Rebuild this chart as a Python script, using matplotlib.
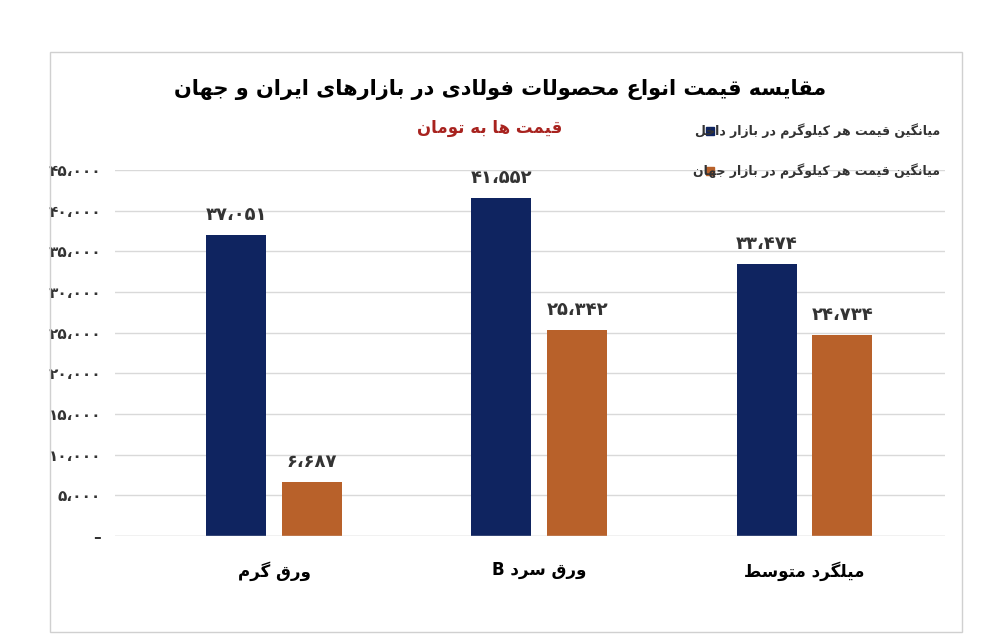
import matplotlib
matplotlib.use("Agg")
import matplotlib.pyplot as plt
from matplotlib.patches import Rectangle

categories = ["ورق گرم", "ورق سرد B", "میلگرد متوسط"]
domestic = [37051, 41552, 33474]
world = [6687, 25342, 24734]
yticks = [0, 5000, 10000, 15000, 20000, 25000, 30000, 35000, 40000, 45000]
title = "مقایسه قیمت انواع محصولات فولادی در بازارهای ایران و جهان"
subtitle = "قیمت ها به تومان"
legend_labels = ["میانگین قیمت هر کیلوگرم در بازار داخل", "میانگین قیمت هر کیلوگرم در بازار جهان"]

FORMS = {
 'ا':(0xFE8D,0xFE8E,None,None),'ب':(0xFE8F,0xFE90,0xFE91,0xFE92),'ت':(0xFE95,0xFE96,0xFE97,0xFE98),
 'ج':(0xFE9D,0xFE9E,0xFE9F,0xFEA0),'ح':(0xFEA1,0xFEA2,0xFEA3,0xFEA4),'خ':(0xFEA5,0xFEA6,0xFEA7,0xFEA8),
 'د':(0xFEA9,0xFEAA,None,None),'ذ':(0xFEAB,0xFEAC,None,None),'ر':(0xFEAD,0xFEAE,None,None),
 'ز':(0xFEAF,0xFEB0,None,None),'س':(0xFEB1,0xFEB2,0xFEB3,0xFEB4),'ش':(0xFEB5,0xFEB6,0xFEB7,0xFEB8),
 'ص':(0xFEB9,0xFEBA,0xFEBB,0xFEBC),'ط':(0xFEC1,0xFEC2,0xFEC3,0xFEC4),'ع':(0xFEC9,0xFECA,0xFECB,0xFECC),
 'ف':(0xFED1,0xFED2,0xFED3,0xFED4),'ق':(0xFED5,0xFED6,0xFED7,0xFED8),'ک':(0xFB8E,0xFB8F,0xFB90,0xFB91),
 'گ':(0xFB92,0xFB93,0xFB94,0xFB95),'ل':(0xFEDD,0xFEDE,0xFEDF,0xFEE0),'م':(0xFEE1,0xFEE2,0xFEE3,0xFEE4),
 'ن':(0xFEE5,0xFEE6,0xFEE7,0xFEE8),'ه':(0xFEE9,0xFEEA,0xFEEB,0xFEEC),'و':(0xFEED,0xFEEE,None,None),
 'ی':(0xFBFC,0xFBFD,0xFBFE,0xFBFF),
}

def shape(s):
    out = []
    for i, c in enumerate(s):
        if c not in FORMS:
            out.append(c); continue
        f = FORMS[c]
        prev = s[i-1] if i > 0 else ''
        nxt = s[i+1] if i+1 < len(s) else ''
        jp = prev in FORMS and FORMS[prev][2] is not None
        jn = f[2] is not None and nxt in FORMS
        if jp and jn: code = f[3]
        elif jp: code = f[1]
        elif jn: code = f[2]
        else: code = f[0]
        out.append(chr(code))
    return ''.join(out)[::-1]

PD = str.maketrans("0123456789", "۰۱۲۳۴۵۶۷۸۹")
def fa_num(v):
    if v == 0: return "–"
    return f"{v:,}".replace(",", "،").translate(PD)

plt.rcParams["font.family"] = "DejaVu Sans"
fig = plt.figure(figsize=(10.03, 6.43), dpi=100)
fig.patches.append(Rectangle((50/1003, 11/643), 912/1003, 580/643, transform=fig.transFigure,
                             fill=False, edgecolor="#d0d0d0", lw=1))
ax = fig.add_axes([115/1003, 107/643, 830/1003, 366/643])
x = range(len(categories))
blue, orange = "#0f2460", "#b8612a"
w, off = 0.226, 0.143
b1 = ax.bar([i - off for i in x], domestic, w, color=blue)
b2 = ax.bar([i + off for i in x], world, w, color=orange)
for bars, vals in ((b1, domestic), (b2, world)):
    for r, v in zip(bars, vals):
        ax.text(r.get_x() + r.get_width()/2, v + 1300, fa_num(v), ha="center", va="bottom",
                fontsize=13, fontweight="bold", color="#333333")
ax.set_xlim(-0.6, 2.53)
ax.set_ylim(0, 45000)
ax.set_yticks(yticks)
ax.set_yticklabels([fa_num(v) for v in yticks], fontsize=11, fontweight="bold", color="#333333")
ax.set_xticks(list(x))
ax.set_xticklabels([shape(c) for c in categories], fontsize=12, fontweight="bold")
ax.tick_params(length=0, pad=10)
ax.tick_params(axis="x", pad=18)
ax.grid(axis="y", color="#d9d9d9", lw=1)
ax.set_axisbelow(True)
for s in ax.spines.values(): s.set_visible(False)
ax.axhline(0, color="#d9d9d9", lw=1)

fig.text(500/1003, 1-90/643, shape(title), ha="center", va="center", fontsize=15, fontweight="bold")
fig.text(490/1003, 1-128/643, shape(subtitle), ha="center", va="center", fontsize=12,
         fontweight="bold", color="#a8231f")
for i, (lab, col) in enumerate(zip(legend_labels, [blue, orange])):
    y = 1 - (131 + i*40)/643
    fig.text(940/1003, y, shape(lab), ha="right", va="center", fontsize=9, fontweight="bold", color="#333333")
    fig.patches.append(Rectangle((706/1003, y - 4/643), 8/1003, 8/643, transform=fig.transFigure, color=col))
fig.savefig("out.png", dpi=100)
